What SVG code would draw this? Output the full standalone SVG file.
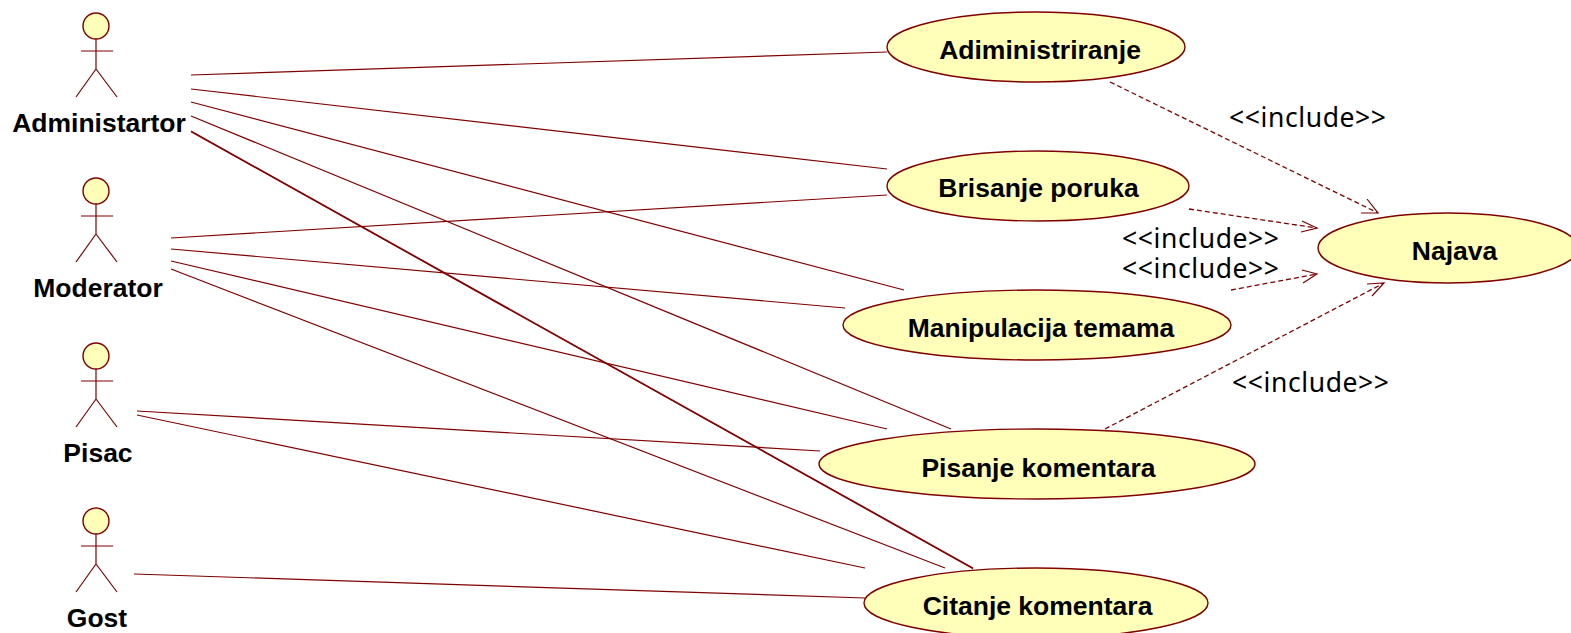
<svg xmlns="http://www.w3.org/2000/svg" width="1571" height="633" viewBox="0 0 1571 633">
<style>
.l{stroke:#800000;stroke-width:1.2;fill:none}
.d{stroke:#800000;stroke-width:1.3;fill:none;stroke-dasharray:5 3}
.e{fill:#ffffb9;stroke:#800000;stroke-width:1.4}
.t{font-family:"Liberation Sans",Arial,sans-serif;font-weight:bold;font-size:26.5px;text-anchor:middle;fill:#000}
.i{font-family:"Noto Sans",Tahoma,sans-serif;font-size:26.500px;letter-spacing:0.6px;fill:#000}
</style>
<defs>
<g id="actor"><circle cx="96" cy="26" r="13" class="e"/><path class="l" d="M96 39V69M81 51H113M96 69L76 97M96 69L117 97"/></g>
</defs>
<g id="connectors">
<path class="l" d="M191 75L887 52"/>
<path class="l" d="M191 89L887 169"/>
<path class="l" d="M191 102L904 290"/>
<path class="l" d="M191 116L951 429"/>
<path class="l" d="M191 131L973 568"/>
<path class="l" d="M191 131.700L973 568.700"/>
<path class="l" d="M171 238L887 195"/>
<path class="l" d="M171 249L845 308"/>
<path class="l" d="M171 261L887 429"/>
<path class="l" d="M171 269L945 568"/>
<path class="l" d="M137 411L820 451"/>
<path class="l" d="M137 415L865 568"/>
<path class="l" d="M134 574L865 598"/>
<path class="d" d="M1110 82L1378 213"/><path class="l" d="M1361 213H1378L1367 199"/>
<path class="d" d="M1189 209L1317 228"/><path class="l" d="M1302 221L1317 228L1301 232"/>
<path class="d" d="M1231 290L1317 274"/><path class="l" d="M1302 270L1317 274L1303 283"/>
<path class="d" d="M1105 429L1384 283"/><path class="l" d="M1367 284L1384 283L1372 296"/>
</g>
<g id="actor-administartor"><use href="#actor"/><text class="t" x="99" y="132">Administartor</text></g>
<g id="actor-moderator"><use href="#actor" y="165"/><text class="t" x="98" y="297">Moderator</text></g>
<g id="actor-pisac"><use href="#actor" y="330"/><text class="t" x="98" y="462">Pisac</text></g>
<g id="actor-gost"><use href="#actor" y="495"/><text class="t" x="97" y="627">Gost</text></g>
<g id="uc-adiministriranje"><ellipse class="e" cx="1036" cy="47" rx="149" ry="35"/><text class="t" x="1040" y="59">Adiministriranje</text></g>
<g id="uc-brisanje"><ellipse class="e" cx="1038" cy="186" rx="151" ry="35"/><text class="t" x="1038.500" y="197">Brisanje poruka</text></g>
<g id="uc-manipulacija"><ellipse class="e" cx="1037" cy="325" rx="194" ry="35"/><text class="t" x="1041" y="337">Manipulacija temama</text></g>
<g id="uc-pisanje"><ellipse class="e" cx="1037" cy="464" rx="218" ry="35"/><text class="t" x="1038.500" y="477">Pisanje komentara</text></g>
<g id="uc-citanje"><ellipse class="e" cx="1036" cy="603" rx="172" ry="35"/><text class="t" x="1037.500" y="615">Citanje komentara</text></g>
<g id="uc-najava"><ellipse class="e" cx="1448" cy="248" rx="130" ry="35"/><text class="t" x="1454.500" y="260">Najava</text></g>
<g id="labels">
<text class="i" x="1229" y="127">&lt;&lt;include&gt;&gt;</text>
<text class="i" x="1122" y="248">&lt;&lt;include&gt;&gt;</text>
<text class="i" x="1122" y="278">&lt;&lt;include&gt;&gt;</text>
<text class="i" x="1232" y="392">&lt;&lt;include&gt;&gt;</text>
</g>
</svg>
